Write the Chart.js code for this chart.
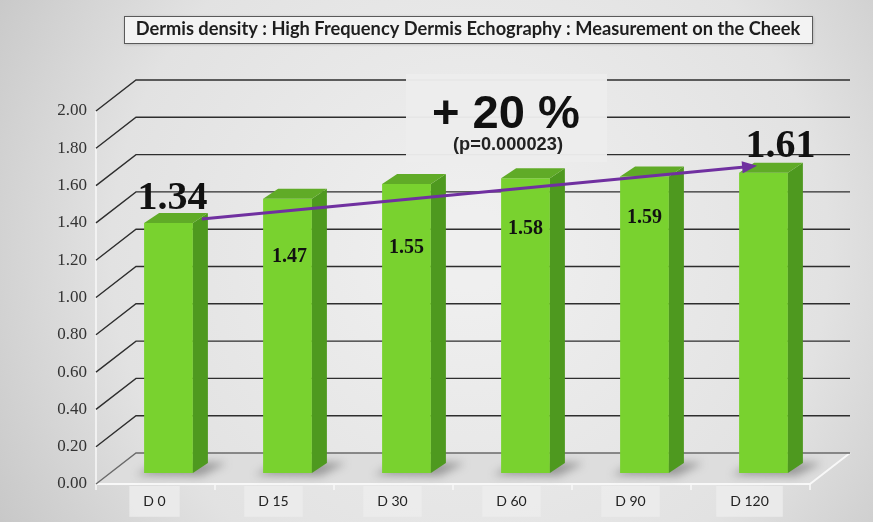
<!DOCTYPE html>
<html>
<head>
<meta charset="utf-8">
<script src="https://cdn.jsdelivr.net/npm/chart.js@4.4.1/dist/chart.umd.min.js"></script>
<style>
  html, body { margin: 0; padding: 0; background: #dcdcdc; }
  #wrap { width: 873px; height: 522px; }
</style>
</head>
<body>
<div id="wrap"><canvas id="c" width="873" height="522"></canvas></div>
<script>
// ---- data ----
const categories = ['D 0', 'D 15', 'D 30', 'D 60', 'D 90', 'D 120'];
const density = [1.34, 1.47, 1.55, 1.58, 1.59, 1.61];
const yTickValues = [0, 0.2, 0.4, 0.6, 0.8, 1.0, 1.2, 1.4, 1.6, 1.8, 2.0];
const chartTitle = 'Dermis density : High Frequency Dermis Echography : Measurement on the Cheek';
const gainText = '+ 20 %';
const pValueText = '(p=0.000023)';

// ---- 3D look (styling only) ----
const FRONT = { dx: -13, dy: 11 };   // front edge of the floor relative to the bar plane
const BACK = { dx: 27, dy: -20 };    // back wall relative to the bar plane
const BAR_DEPTH = { dx: 15, dy: -10 };
const COLORS = { front: '#79d22f', side: '#4e991f', top: '#60ab27', grid: '#2e2e2e', arrow: '#7030a0' };
// value label placement per bar: [dx, dy from bar top, font size]
const labelStyle = [[4, -14, 40], [2, 63, 20], [0, 69, 20], [0, 56, 20], [0, 47, 20], [17, -16, 40]];

function fitFont(ctx, text, weight, family, targetWidth, guess) {
  ctx.font = `${weight} ${guess}px ${family}`;
  const w = ctx.measureText(text).width;
  return guess * targetWidth / w;
}

const scenePlugin = {
  id: 'scene',
  beforeDraw(chart) {
    const { ctx, width, height } = chart;
    ctx.save();
    const g = ctx.createRadialGradient(470, 250, 40, 470, 250, 620);
    g.addColorStop(0, '#efefef');
    g.addColorStop(0.55, '#e2e2e2');
    g.addColorStop(1, '#bdbdbd');
    ctx.fillStyle = g;
    ctx.fillRect(0, 0, width, height);
    ctx.restore();
  },
  beforeDatasetsDraw(chart) {
    const { ctx, chartArea: a, scales: { x, y } } = chart;
    const y0 = y.getPixelForValue(0);
    ctx.save();
    // floor
    ctx.beginPath();
    ctx.moveTo(a.left + FRONT.dx, y0 + FRONT.dy);
    ctx.lineTo(a.right + FRONT.dx, y0 + FRONT.dy);
    ctx.lineTo(a.right + BACK.dx, y0 + BACK.dy);
    ctx.lineTo(a.left + BACK.dx, y0 + BACK.dy);
    ctx.closePath();
    ctx.fillStyle = '#dddddd';
    ctx.fill();
    // floor front & right edges
    ctx.strokeStyle = '#f8f8f8';
    ctx.lineWidth = 2;
    ctx.beginPath();
    ctx.moveTo(a.left + FRONT.dx, y0 + FRONT.dy);
    ctx.lineTo(a.right + FRONT.dx, y0 + FRONT.dy);
    ctx.lineTo(a.right + BACK.dx, y0 + BACK.dy);
    ctx.stroke();
    // category separators under the front edge
    ctx.lineWidth = 1.5;
    for (let i = 0; i <= categories.length; i++) {
      const px = a.left + FRONT.dx + (a.right - a.left) * i / categories.length;
      ctx.beginPath();
      ctx.moveTo(px, y0 + FRONT.dy);
      ctx.lineTo(px, y0 + FRONT.dy + 6);
      ctx.stroke();
    }
    // front vertical axis line
    ctx.beginPath();
    ctx.moveTo(a.left + FRONT.dx, y.getPixelForValue(2) + FRONT.dy);
    ctx.lineTo(a.left + FRONT.dx, y0 + FRONT.dy);
    ctx.stroke();
    // back wall grid lines and the diagonals on the side wall
    ctx.strokeStyle = COLORS.grid;
    ctx.lineWidth = 1.4;
    yTickValues.forEach(v => {
      const py = y.getPixelForValue(v);
      ctx.beginPath();
      ctx.moveTo(a.left + FRONT.dx, py + FRONT.dy);
      ctx.lineTo(a.left + BACK.dx, py + BACK.dy);
      ctx.lineTo(a.right + BACK.dx, py + BACK.dy);
      ctx.strokeStyle = v === 0 ? '#6a6a6a' : COLORS.grid;
      ctx.stroke();
    });
    // annotation panel
    ctx.fillStyle = 'rgba(236,236,236,0.97)';
    ctx.fillRect(406, 74, 201, 88);
    ctx.fillStyle = '#111';
    ctx.textAlign = 'center';
    ctx.textBaseline = 'alphabetic';
    ctx.font = `bold ${fitFont(ctx, gainText, 'bold', '"Liberation Sans"', 148, 46)}px "Liberation Sans"`;
    ctx.fillText(gainText, 506, 128);
    ctx.fillStyle = '#222';
    ctx.font = `bold ${fitFont(ctx, pValueText, 'bold', '"Liberation Sans"', 110, 16)}px "Liberation Sans"`;
    ctx.fillText(pValueText, 508, 150);
    // soft bar shadows on the floor
    const meta = chart.getDatasetMeta(0);
    ctx.filter = 'blur(4px)';
    ctx.fillStyle = 'rgba(70,70,70,0.45)';
    meta.data.forEach(bar => {
      const l = bar.x - bar.width / 2, r = bar.x + bar.width / 2, b = bar.base;
      ctx.beginPath();
      ctx.moveTo(l - 8, b + 2);
      ctx.lineTo(r + 8, b + 3);
      ctx.lineTo(r + 34, b - 10);
      ctx.lineTo(l + 18, b - 12);
      ctx.closePath();
      ctx.fill();
    });
    ctx.filter = 'none';
    ctx.restore();
  },
  afterDatasetsDraw(chart) {
    const { ctx, scales: { y } } = chart;
    const meta = chart.getDatasetMeta(0);
    ctx.save();
    // side and top faces
    meta.data.forEach(bar => {
      const l = bar.x - bar.width / 2, r = bar.x + bar.width / 2, t = bar.y, b = bar.base;
      ctx.fillStyle = COLORS.side;
      ctx.beginPath();
      ctx.moveTo(r, t);
      ctx.lineTo(r + BAR_DEPTH.dx, t + BAR_DEPTH.dy);
      ctx.lineTo(r + BAR_DEPTH.dx, b + BAR_DEPTH.dy);
      ctx.lineTo(r, b);
      ctx.closePath();
      ctx.fill();
      ctx.fillStyle = COLORS.top;
      ctx.beginPath();
      ctx.moveTo(l, t);
      ctx.lineTo(l + BAR_DEPTH.dx, t + BAR_DEPTH.dy);
      ctx.lineTo(r + BAR_DEPTH.dx, t + BAR_DEPTH.dy);
      ctx.lineTo(r, t);
      ctx.closePath();
      ctx.fill();
    });
    // trend arrow from the first to the last measurement
    const first = meta.data[0], last = meta.data[meta.data.length - 1];
    const sx = first.x + first.width / 2 + 9, sy = y.getPixelForValue(density[0]) - 4;
    const ex = last.x - last.width / 2 + 18, ey = y.getPixelForValue(density[density.length - 1]) - 7;
    const ang = Math.atan2(ey - sy, ex - sx);
    ctx.strokeStyle = COLORS.arrow;
    ctx.fillStyle = COLORS.arrow;
    ctx.lineWidth = 3;
    ctx.beginPath();
    ctx.moveTo(sx, sy);
    ctx.lineTo(ex - 10 * Math.cos(ang), ey - 10 * Math.sin(ang));
    ctx.stroke();
    ctx.beginPath();
    ctx.moveTo(ex, ey);
    ctx.lineTo(ex - 15 * Math.cos(ang) + 6 * Math.sin(ang), ey - 15 * Math.sin(ang) - 6 * Math.cos(ang));
    ctx.lineTo(ex - 15 * Math.cos(ang) - 6 * Math.sin(ang), ey - 15 * Math.sin(ang) + 6 * Math.cos(ang));
    ctx.closePath();
    ctx.fill();
    // value labels
    ctx.textAlign = 'center';
    ctx.textBaseline = 'alphabetic';
    meta.data.forEach((bar, i) => {
      const [dx, dy, size] = labelStyle[i];
      ctx.font = `bold ${size}px "Liberation Serif"`;
      ctx.fillStyle = '#111';
      ctx.fillText(density[i].toFixed(2), bar.x + dx, bar.y + dy);
    });
    ctx.restore();
  },
  afterDraw(chart) {
    const { ctx } = chart;
    ctx.save();
    // title panel
    ctx.shadowColor = 'rgba(0,0,0,0.25)';
    ctx.shadowBlur = 3;
    ctx.shadowOffsetX = 1;
    ctx.shadowOffsetY = 1;
    ctx.fillStyle = '#f3f3f3';
    ctx.fillRect(124, 16, 688, 27);
    ctx.shadowColor = 'transparent';
    ctx.strokeStyle = '#5a5a5a';
    ctx.lineWidth = 1;
    ctx.strokeRect(124.5, 16.5, 688, 27);
    ctx.fillStyle = '#1e1e1e';
    ctx.textAlign = 'center';
    ctx.textBaseline = 'alphabetic';
    ctx.font = `bold ${fitFont(ctx, chartTitle, 'bold', 'Lato', 665, 17)}px Lato`;
    ctx.fillText(chartTitle, 468, 35);
    ctx.restore();
  }
};

new Chart(document.getElementById('c'), {
  type: 'bar',
  data: {
    labels: categories,
    datasets: [{
      data: density,
      backgroundColor: COLORS.front,
      borderWidth: 0,
      categoryPercentage: 1,
      barPercentage: 0.41
    }]
  },
  options: {
    responsive: false,
    animation: false,
    devicePixelRatio: 1,
    layout: { padding: { left: 0, right: 50, top: 100, bottom: 0 } },
    plugins: { legend: { display: false }, tooltip: { enabled: false }, title: { display: false } },
    scales: {
      x: {
        grid: { display: false, drawTicks: false },
        border: { display: false },
        afterFit(scale) { scale.height = 49; },
        ticks: {
          color: '#222',
          font: { family: 'Lato', size: 14 },
          padding: 20,
          labelOffset: -14,
          showLabelBackdrop: true,
          backdropColor: 'rgba(236,236,236,0.85)',
          backdropPadding: { top: 7, bottom: 7, left: 14, right: 14 }
        }
      },
      y: {
        min: 0,
        max: 2,
        grid: { display: false, drawTicks: false },
        border: { display: false },
        afterFit(scale) { scale.width = 109; },
        afterBuildTicks(scale) { scale.ticks = yTickValues.map(v => ({ value: v })); },
        ticks: {
          autoSkip: false,
          color: '#333',
          font: { family: '"Liberation Serif"', size: 17 },
          padding: 22,
          labelOffset: 11,
          callback: v => Number(v).toFixed(2)
        }
      }
    }
  },
  plugins: [scenePlugin]
});
</script>
</body>
</html>
